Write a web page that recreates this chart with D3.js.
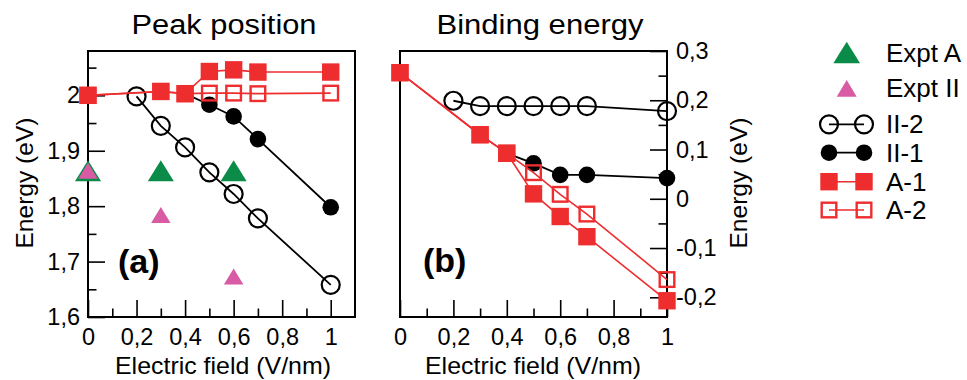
<!DOCTYPE html>
<html><head><meta charset="utf-8">
<script src="https://cdn.jsdelivr.net/npm/d3@7"></script>
<style>
html,body{margin:0;padding:0;background:#fff;}
svg text{font-family:"Liberation Sans",Arial,Helvetica,sans-serif;fill:#000;}
</style></head>
<body>
<svg id="chart" width="967" height="380"></svg>
<script>
// ---------- data ----------
const fieldII2 = [0.2, 0.3, 0.4, 0.5, 0.6, 0.7, 1.0];
const fieldII1 = [0.4, 0.5, 0.6, 0.7, 1.0];
const fieldA = [0, 0.3, 0.4, 0.5, 0.6, 0.7, 1.0];
const fieldExpt = [0, 0.3, 0.6];

// panel (a): peak position (eV)
const peakII2 = [1.998, 1.945, 1.906, 1.861, 1.822, 1.778, 1.658];
const peakII1 = [2.003, 1.983, 1.962, 1.921, 1.798];
const peakA1 = [2.0, 2.007, 2.003, 2.043, 2.046, 2.042, 2.042];
const peakA2 = [2.0, 2.007, 2.003, 2.004, 2.004, 2.003, 2.004];
const peakExptA = [1.864, 1.864, 1.864];
const peakExptII = [1.864, 1.784, 1.673];

// panel (b): binding energy (eV)
const bindII2 = [0.199, 0.188, 0.188, 0.188, 0.188, 0.188, 0.178];
const bindII1 = [0.0925, 0.072, 0.0485, 0.0485, 0.042];
const bindA1 = [0.256, 0.130, 0.0925, 0.010, -0.036, -0.077, -0.207];
const bindA2 = [0.256, 0.130, 0.0925, 0.053, 0.009, -0.031, -0.164];

// ticks
const xTicks = [0, 0.2, 0.4, 0.6, 0.8, 1.0];
const xTickLabels = ["0", "0,2", "0,4", "0,6", "0,8", "1"];
const xMinor = [0.1, 0.3, 0.5, 0.7, 0.9];
const yTicksA = [1.6, 1.7, 1.8, 1.9, 2.0];
const yTickLabelsA = ["1,6", "1,7", "1,8", "1,9", "2"];
const yMinorA = [1.65, 1.75, 1.85, 1.95, 2.05];
const yTicksB = [0.3, 0.2, 0.1, 0, -0.1, -0.2];
const yTickLabelsB = ["0,3", "0,2", "0,1", "0", "-0,1", "-0,2"];
const yMinorB = [0.25, 0.15, 0.05, -0.05, -0.15];

const legendLabels = ["Expt A", "Expt II", "II-2", "II-1", "A-1", "A-2"];

// ---------- styles ----------
const RED = "#ee2d2f", GREEN = "#0a8b47", PINK = "#d85ba4";

const svg = d3.select("#chart");

const pA = {x0: 88, x1: 355, y0: 51, y1: 317};
const pB = {x0: 400, x1: 667, y0: 51, y1: 317};

const xA = d3.scaleLinear().domain([0, 1.1]).range([pA.x0, pA.x1]);
const yA = d3.scaleLinear().domain([1.6, 2.08]).range([pA.y1, pA.y0]);
const xB = d3.scaleLinear().domain([0, 1]).range([pB.x0, pB.x1]);
const yB = d3.scaleLinear().domain([-0.24, 0.3]).range([pB.y1, pB.y0]);

function fmt(vals, labels) { return d => labels[vals.findIndex(v => Math.abs(v - d) < 1e-9)]; }

function styleAxis(g) {
  g.select(".domain").remove();
  g.selectAll("line").attr("stroke", "#000").attr("stroke-width", 1.6);
  g.selectAll("text").attr("font-size", 23.5).attr("font-family", null);
}

// ---- panel A axes ----
svg.append("g").attr("transform", `translate(0,${pA.y1})`)
  .call(d3.axisBottom(xA).tickValues(xTicks).tickFormat(fmt(xTicks, xTickLabels)).tickSize(-17).tickPadding(11))
  .call(styleAxis);
svg.append("g").attr("transform", `translate(0,${pA.y1})`)
  .call(d3.axisBottom(xA).tickValues(xMinor).tickFormat("").tickSize(-8.5))
  .call(styleAxis);
svg.append("g").attr("transform", `translate(${pA.x0},0)`)
  .call(d3.axisLeft(yA).tickValues(yTicksA).tickFormat(fmt(yTicksA, yTickLabelsA)).tickSize(-17).tickPadding(8))
  .call(styleAxis);
svg.append("g").attr("transform", `translate(${pA.x0},0)`)
  .call(d3.axisLeft(yA).tickValues(yMinorA).tickFormat("").tickSize(-8.5))
  .call(styleAxis);

// ---- panel B axes ----
svg.append("g").attr("transform", `translate(0,${pB.y1})`)
  .call(d3.axisBottom(xB).tickValues(xTicks).tickFormat(fmt(xTicks, xTickLabels)).tickSize(-17).tickPadding(11))
  .call(styleAxis);
svg.append("g").attr("transform", `translate(0,${pB.y1})`)
  .call(d3.axisBottom(xB).tickValues(xMinor).tickFormat("").tickSize(-8.5))
  .call(styleAxis);
svg.append("g").attr("transform", `translate(${pB.x1},0)`)
  .call(d3.axisRight(yB).tickValues(yTicksB).tickFormat(fmt(yTicksB, yTickLabelsB)).tickSize(-17).tickPadding(9))
  .call(styleAxis);
svg.append("g").attr("transform", `translate(${pB.x1},0)`)
  .call(d3.axisRight(yB).tickValues(yMinorB).tickFormat("").tickSize(-8.5))
  .call(styleAxis);

// frames
[pA, pB].forEach(p => svg.append("rect")
  .attr("x", p.x0).attr("y", p.y0).attr("width", p.x1 - p.x0).attr("height", p.y1 - p.y0)
  .attr("fill", "none").attr("stroke", "#000").attr("stroke-width", 2));

// ---------- marks ----------
function tri(cx, cy, w, h) {
  return `M${cx - w / 2},${cy + h / 2}L${cx + w / 2},${cy + h / 2}L${cx},${cy - h / 2}Z`;
}
function triangles(g, xs, ys, x, y, w, h, color) {
  g.selectAll(null).data(xs.map((v, i) => [v, ys[i]])).enter().append("path")
    .attr("d", d => tri(x(d[0]), y(d[1]), w, h)).attr("fill", color);
}
function series(g, xs, ys, x, y, kind) {
  const pts = xs.map((v, i) => [x(v), y(ys[i])]);
  const red = kind === "sqFill" || kind === "sqOpen";
  g.append("path").attr("d", d3.line()(pts)).attr("fill", "none")
    .attr("stroke", red ? RED : "#000").attr("stroke-width", red ? 1.6 : 1.8);
  drawMarkers(g, pts, kind);
}
function drawMarkers(g, pts, kind) {
  const sel = g.selectAll(null).data(pts).enter();
  if (kind === "circOpen") {
    sel.append("circle").attr("cx", d => d[0]).attr("cy", d => d[1]).attr("r", 9)
      .attr("fill", "none").attr("stroke", "#000").attr("stroke-width", 2.2);
  } else if (kind === "circFill") {
    sel.append("circle").attr("cx", d => d[0]).attr("cy", d => d[1]).attr("r", 8.3).attr("fill", "#000");
  } else if (kind === "sqFill") {
    sel.append("rect").attr("x", d => d[0] - 8.7).attr("y", d => d[1] - 8.7)
      .attr("width", 17.4).attr("height", 17.4).attr("fill", RED);
  } else {
    sel.append("rect").attr("x", d => d[0] - 7.3).attr("y", d => d[1] - 7.3)
      .attr("width", 14.6).attr("height", 14.6).attr("fill", "none")
      .attr("stroke", RED).attr("stroke-width", 2.4);
  }
}

const gA = svg.append("g");
triangles(gA, fieldExpt, peakExptA, xA, yA, 26, 21, GREEN);
triangles(gA, fieldExpt, peakExptII, xA, yA, 19.5, 16, PINK);
series(gA, fieldII2, peakII2, xA, yA, "circOpen");
series(gA, fieldII1, peakII1, xA, yA, "circFill");
series(gA, fieldA, peakA2, xA, yA, "sqOpen");
series(gA, fieldA, peakA1, xA, yA, "sqFill");

const gB = svg.append("g");
series(gB, fieldII2, bindII2, xB, yB, "circOpen");
series(gB, fieldII1, bindII1, xB, yB, "circFill");
series(gB, fieldA, bindA2, xB, yB, "sqOpen");
series(gB, fieldA, bindA1, xB, yB, "sqFill");

// ---------- text ----------
svg.append("text").attr("x", 224).attr("y", 34).attr("text-anchor", "middle")
  .attr("font-size", 27).attr("textLength", 185).attr("lengthAdjust", "spacingAndGlyphs").text("Peak position");
svg.append("text").attr("x", 540).attr("y", 34).attr("text-anchor", "middle")
  .attr("font-size", 27).attr("textLength", 207).attr("lengthAdjust", "spacingAndGlyphs").text("Binding energy");

svg.append("text").attr("x", 223).attr("y", 374).attr("text-anchor", "middle")
  .attr("font-size", 24).attr("textLength", 216).attr("lengthAdjust", "spacingAndGlyphs").text("Electric field (V/nm)");
svg.append("text").attr("x", 533).attr("y", 374).attr("text-anchor", "middle")
  .attr("font-size", 24).attr("textLength", 216).attr("lengthAdjust", "spacingAndGlyphs").text("Electric field (V/nm)");

svg.append("text").attr("transform", "translate(33,183) rotate(-90)").attr("text-anchor", "middle")
  .attr("font-size", 24).attr("textLength", 131).attr("lengthAdjust", "spacingAndGlyphs").text("Energy (eV)");
svg.append("text").attr("transform", "translate(747,183) rotate(-90)").attr("text-anchor", "middle")
  .attr("font-size", 24).attr("textLength", 131).attr("lengthAdjust", "spacingAndGlyphs").text("Energy (eV)");

svg.append("text").attr("x", 118).attr("y", 273).attr("font-size", 34).attr("font-weight", "bold").text("(a)");
svg.append("text").attr("x", 423).attr("y", 272).attr("font-size", 34).attr("font-weight", "bold").text("(b)");

// ---------- legend ----------
const lg = svg.append("g");
const rowsY = [52.5, 88.3, 124.3, 152.7, 181.7, 210];
const kinds = ["triA", "triII", "circOpen", "circFill", "sqFill", "sqOpen"];
kinds.forEach((k, i) => {
  const cy = rowsY[i];
  if (k === "triA") lg.append("path").attr("d", tri(846.7, cy, 26.7, 21.7)).attr("fill", GREEN);
  else if (k === "triII") lg.append("path").attr("d", tri(846.7, cy, 20, 16.7)).attr("fill", PINK);
  else {
    const red = k === "sqFill" || k === "sqOpen";
    lg.append("line").attr("x1", 829).attr("x2", 864).attr("y1", cy).attr("y2", cy)
      .attr("stroke", red ? RED : "#000").attr("stroke-width", red ? 1.6 : 1.8);
    drawMarkers(lg, [[829, cy], [864, cy]], k);
  }
  lg.append("text").attr("x", 886).attr("y", cy + 9).attr("font-size", 26).text(legendLabels[i]);
});
</script>
</body></html>
